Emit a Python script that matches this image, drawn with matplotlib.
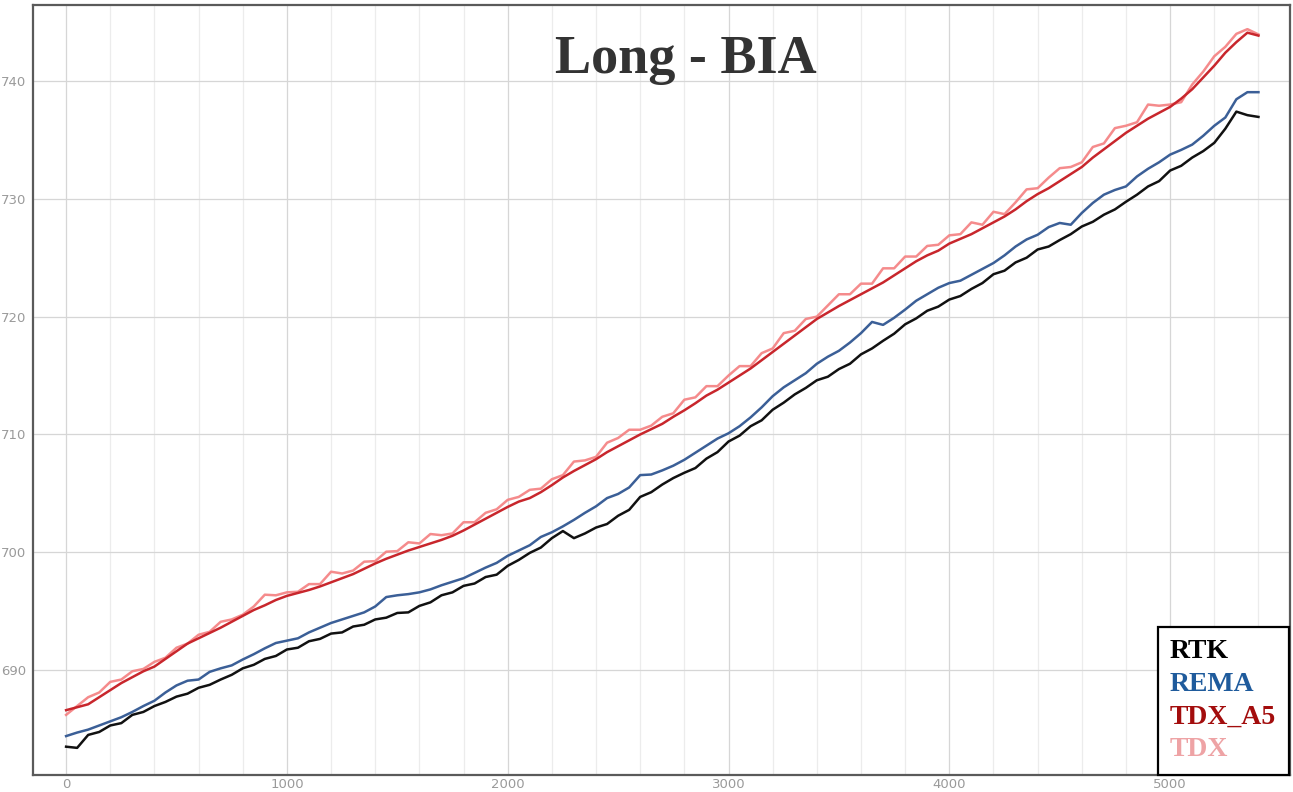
import numpy as np
import matplotlib.pyplot as plt
from matplotlib.lines import Line2D
from matplotlib.ticker import MultipleLocator

# distance along the profile (sampled every 50)
dist = np.arange(0, 5401, 50)

rtk = [683.5, 683.4, 684.5, 684.75, 685.3, 685.5, 686.2, 686.45, 686.95, 687.3,
       687.75, 688.0, 688.5, 688.75, 689.2, 689.6, 690.15, 690.45, 690.95, 691.2,
       691.75, 691.9, 692.45, 692.65, 693.1, 693.2, 693.7, 693.85, 694.3, 694.45,
       694.85, 694.9, 695.45, 695.75, 696.35, 696.6, 697.15, 697.35, 697.9, 698.1,
       698.85, 699.35, 699.95, 700.4, 701.2, 701.8, 701.2, 701.6, 702.1, 702.4,
       703.1, 703.6, 704.7, 705.1, 705.75, 706.3, 706.75, 707.15, 707.95, 708.5,
       709.4, 709.9, 710.7, 711.2, 712.1, 712.7, 713.4, 713.95, 714.6, 714.9,
       715.55, 716.0, 716.8, 717.3, 717.95, 718.55, 719.35, 719.85, 720.5, 720.85,
       721.45, 721.75, 722.35, 722.85, 723.6, 723.9, 724.6, 725.0, 725.7, 725.95,
       726.5, 727.0, 727.65, 728.05, 728.65, 729.1, 729.75, 730.35, 731.05, 731.5,
       732.4, 732.8, 733.5, 734.05, 734.75, 735.95, 737.4, 737.1, 736.95]

rema = [684.4, 684.7, 684.95, 685.3, 685.65, 686.0, 686.45, 686.95, 687.4, 688.1,
        688.7, 689.1, 689.2, 689.85, 690.15, 690.4, 690.9, 691.35, 691.85, 692.3,
        692.5, 692.7, 693.2, 693.6, 694.0, 694.3, 694.6, 694.9, 695.4, 696.2,
        696.35, 696.45, 696.6, 696.85, 697.2, 697.5, 697.8, 698.25, 698.7, 699.1,
        699.7, 700.15, 700.6, 701.3, 701.7, 702.2, 702.75, 703.35, 703.9, 704.6,
        704.95, 705.5, 706.55, 706.6, 706.95, 707.35, 707.85, 708.45, 709.05, 709.65,
        710.1, 710.7, 711.45, 712.3, 713.25, 714.0, 714.6, 715.2, 716.0, 716.6,
        717.1, 717.8, 718.6, 719.55, 719.3, 719.9, 720.6, 721.35, 721.9, 722.45,
        722.85, 723.05, 723.55, 724.05, 724.55, 725.2, 725.95, 726.55, 726.95, 727.6,
        727.95, 727.8, 728.8, 729.65, 730.35, 730.75, 731.05, 731.9, 732.55, 733.1,
        733.75, 734.15, 734.6, 735.35, 736.2, 736.9, 738.45, 739.05, 739.05]

tdx_a5 = [686.6, 686.85, 687.1, 687.7, 688.3, 688.9, 689.4, 689.9, 690.3, 690.95,
          691.6, 692.25, 692.7, 693.15, 693.6, 694.1, 694.6, 695.1, 695.5, 695.95,
          696.3, 696.55, 696.8, 697.1, 697.45, 697.8, 698.15, 698.6, 699.05, 699.45,
          699.8, 700.15, 700.45, 700.75, 701.05, 701.4, 701.85, 702.35, 702.85, 703.35,
          703.85, 704.3, 704.6, 705.1, 705.7, 706.35, 706.9, 707.4, 707.9, 708.5,
          709.0, 709.5, 710.0, 710.45, 710.9, 711.5, 712.05, 712.65, 713.3, 713.8,
          714.4, 715.0, 715.6, 716.3, 717.0, 717.7, 718.4, 719.1, 719.8, 720.35,
          720.9, 721.4, 721.9, 722.4, 722.9, 723.5, 724.1, 724.7, 725.2, 725.6,
          726.2, 726.6, 727.0, 727.5, 728.0, 728.5, 729.1, 729.8, 730.4, 730.9,
          731.5, 732.1, 732.7, 733.5, 734.2, 734.9, 735.6, 736.2, 736.8, 737.3,
          737.8, 738.5, 739.3, 740.3, 741.3, 742.4, 743.3, 744.1, 743.85]

tdx = [686.2, 686.95, 687.7, 688.1, 689.0, 689.2, 689.9, 690.1, 690.7, 691.05,
       691.9, 692.25, 693.0, 693.25, 694.1, 694.3, 694.7, 695.4, 696.4, 696.35,
       696.6, 696.65, 697.3, 697.3, 698.35, 698.2, 698.45, 699.2, 699.25, 700.05,
       700.1, 700.85, 700.75, 701.55, 701.45, 701.6, 702.55, 702.55, 703.35, 703.65,
       704.45, 704.7, 705.3, 705.4, 706.2, 706.55, 707.7, 707.8, 708.1, 709.3,
       709.7, 710.4, 710.4, 710.75, 711.5, 711.8, 712.95, 713.15, 714.1, 714.1,
       715.0, 715.8, 715.8, 716.9, 717.3, 718.6, 718.8, 719.8, 720.0, 720.95,
       721.9, 721.9, 722.8, 722.8, 724.1, 724.1, 725.1, 725.1, 726.0, 726.1,
       726.9, 727.0, 728.0, 727.8, 728.9, 728.7, 729.7, 730.8, 730.9, 731.8,
       732.6, 732.7, 733.1, 734.4, 734.7, 736.0, 736.2, 736.5, 738.0, 737.9,
       738.0, 738.2, 739.7, 740.8, 742.1, 742.9, 744.0, 744.4, 743.95]

series = [
    ('RTK', rtk, '#111111', '#000000'),
    ('REMA', rema, '#3b5f97', '#1f5b9c'),
    ('TDX_A5', tdx_a5, '#c8262c', '#a30d0d'),
    ('TDX', tdx, '#f47f80', '#eea3a5'),
]

fig = plt.figure(figsize=(12.93, 7.92), dpi=100)
ax = fig.add_axes([0.0255, 0.0215, 0.9722, 0.9722])

# draw back to front so the raw TDX sits under the smoothed lines
ax.plot(dist, tdx, color='#f47f80', lw=1.8, alpha=0.9, zorder=2)
ax.plot(dist, tdx_a5, color='#c8262c', lw=1.8, zorder=3)
ax.plot(dist, rema, color='#3b5f97', lw=1.8, zorder=4)
ax.plot(dist, rtk, color='#111111', lw=1.8, zorder=5)

ax.set_xlim(-150, 5543)
ax.set_ylim(681.1, 746.45)
ax.xaxis.set_major_locator(MultipleLocator(1000))
ax.xaxis.set_minor_locator(MultipleLocator(200))
ax.yaxis.set_major_locator(MultipleLocator(10))

ax.grid(which='major', color='#d6d6d6', lw=0.9)
ax.grid(which='minor', axis='x', color='#ececec', lw=0.9)
ax.set_axisbelow(True)
ax.tick_params(which='both', length=0, labelsize=9.5, labelcolor='#9a9a9a')
ax.tick_params(axis='x', pad=2)
ax.tick_params(axis='y', pad=5)
for s in ax.spines.values():
    s.set_color('#5a5a5a')
    s.set_linewidth(1.6)

ax.text(0.5195, 0.9117, 'Long - BIA', transform=ax.transAxes, ha='center',
        va='baseline', fontsize=39, fontweight='bold', family='Liberation Serif',
        color='#333333')

handles = [Line2D([], [], lw=0, color=c) for _, _, c, _ in series]
leg = ax.legend(handles, [n for n, _, _, _ in series], loc='lower right',
                bbox_to_anchor=(0.999, 0.0), borderaxespad=0, handlelength=0,
                handletextpad=0, frameon=True, fancybox=False, framealpha=1,
                labelspacing=0.26, borderpad=0.45,
                prop={'family': 'Liberation Serif', 'weight': 'bold', 'size': 20})
leg.get_frame().set_edgecolor('black')
leg.get_frame().set_linewidth(1.6)
for txt, (_, _, _, tc) in zip(leg.get_texts(), series):
    txt.set_color(tc)
leg.set_zorder(10)

plt.savefig('out.png', dpi=100)
